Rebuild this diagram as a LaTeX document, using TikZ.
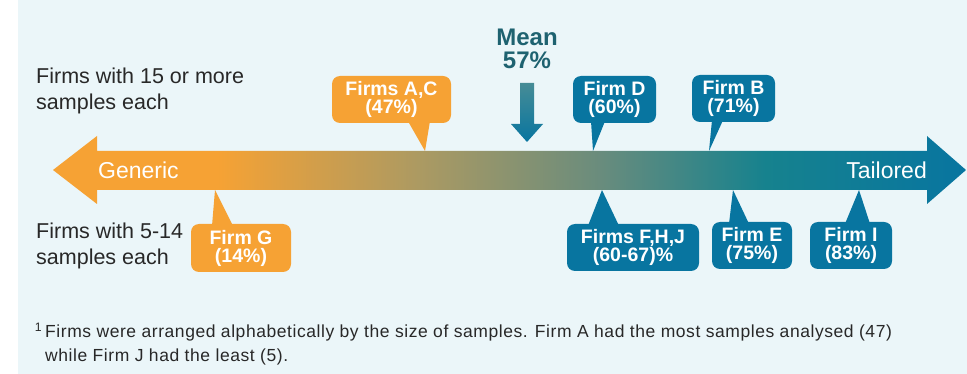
\documentclass[tikz,border=0pt]{standalone}
\usepackage{fontspec}
\setmainfont{Liberation Sans}
\newfontfamily\notefont[LetterSpace=3.2]{Liberation Sans}
\usetikzlibrary{calc}

\definecolor{panel}{RGB}{235,246,249}
\definecolor{orng}{RGB}{246,162,52}
\definecolor{blu}{RGB}{8,117,160}
\definecolor{midtan}{RGB}{172,154,98}
\definecolor{greyteal}{RGB}{105,140,125}
\definecolor{tealmid}{RGB}{22,130,142}
\definecolor{meantxt}{RGB}{30,98,112}
\definecolor{meantop}{RGB}{70,140,150}
\definecolor{labtxt}{RGB}{40,40,40}

\pgfdeclarehorizontalshading{barshade}{100bp}{color(0bp)=(orng); color(34bp)=(orng); color(45bp)=(midtan); color(55bp)=(greyteal); color(64bp)=(tealmid); color(75bp)=(blu); color(100bp)=(blu)}

\begin{document}
\begin{tikzpicture}[x=1pt,y=-1pt,
    callout/.style={rounded corners=8pt, text=white, align=center, inner sep=0pt,
        font=\bfseries\fontsize{19.5}{18}\selectfont},
    orangecall/.style={callout, fill=orng},
    bluecall/.style={callout, fill=blu},
    sidelabel/.style={anchor=north west, align=left, inner sep=0pt, text=labtxt,
        font=\fontsize{21.5}{26}\selectfont},
    barlabel/.style={inner sep=0pt, text=white, font=\fontsize{23}{23}\selectfont}]
    \useasboundingbox (0,0) rectangle (967,374);
    \fill[panel] (18,0) rectangle (967,374);

    % the scale from generic to tailored
    \shade[shading=barshade] (53,170) -- (97,136) -- (97,151) -- (927,151) -- (927,136)
        -- (966,170) -- (927,204) -- (927,190) -- (97,190) -- (97,204) -- cycle;
    \node[barlabel, anchor=west] (generic) at (98,170) {Generic};
    \node[barlabel, anchor=east] (tailored) at (927,170) {Tailored};

    % row labels
    \node[sidelabel] (bigfirms) at (36,67.5) {Firms with 15 or more\\samples each};
    \node[sidelabel] (smallfirms) at (36,222.5) {Firms with 5-14\\samples each};

    % mean marker
    \node[anchor=north, align=center, inner sep=0pt, text=meantxt,
        font=\bfseries\fontsize{24}{23.5}\selectfont] (mean) at (527,28.5) {Mean\\57\%};
    \coordinate (meantip) at (527,142);
    \shade[top color=meantop, bottom color=blu] (520,83) -- (534,83) -- (534,124) -- (543,124)
        -- (meantip) -- (511,124) -- (520,124) -- cycle;

    % firms above the scale
    \node[orangecall, minimum width=119pt, minimum height=47pt] (firmsAC) at (391.5,99.5) {Firms A,C\\(47\%)};
    \coordinate (tipAC) at (425,151);
    \fill[orng] ($(firmsAC.south)+(16.5,-2)$) -- (tipAC) -- ($(firmsAC.south)+(38.5,-2)$) -- cycle;

    \node[bluecall, minimum width=83pt, minimum height=47pt] (firmD) at (614.5,99.5) {Firm D\\(60\%)};
    \coordinate (tipD) at (593,151);
    \fill[blu] ($(firmD.south)+(-23.5,-2)$) -- (tipD) -- ($(firmD.south)+(-9.5,-2)$) -- cycle;

    \node[bluecall, minimum width=83pt, minimum height=47pt] (firmB) at (733.5,98.5) {Firm B\\(71\%)};
    \coordinate (tipB) at (709,151);
    \fill[blu] ($(firmB.south)+(-21.5,-2)$) -- (tipB) -- ($(firmB.south)+(-10.5,-2)$) -- cycle;

    % firms below the scale
    \node[orangecall, minimum width=100pt, minimum height=48pt] (firmG) at (241,248) {Firm G\\(14\%)};
    \coordinate (tipG) at (215,190);
    \fill[orng] ($(firmG.north)+(-29,2)$) -- (tipG) -- ($(firmG.north)+(-8,2)$) -- cycle;

    \node[bluecall, minimum width=132pt, minimum height=47pt] (firmsFHJ) at (633,247.5) {Firms F,H,J\\(60-67)\%};
    \coordinate (tipFHJ) at (602,190);
    \fill[blu] ($(firmsFHJ.north)+(-45,2)$) -- (tipFHJ) -- ($(firmsFHJ.north)+(-14,2)$) -- cycle;

    \node[bluecall, minimum width=80pt, minimum height=47pt] (firmE) at (752,245.5) {Firm E\\(75\%)};
    \coordinate (tipE) at (733,190);
    \fill[blu] ($(firmE.north)+(-23,2)$) -- (tipE) -- ($(firmE.north)+(-3,2)$) -- cycle;

    \node[bluecall, minimum width=82pt, minimum height=47pt] (firmI) at (851,245.5) {Firm I\\(83\%)};
    \coordinate (tipI) at (859,190);
    \fill[blu] ($(firmI.north)+(-6,2)$) -- (tipI) -- ($(firmI.north)+(19,2)$) -- cycle;

    % footnote
    \node[anchor=north west, align=left, inner sep=0pt, text=labtxt,
        font=\notefont\fontsize{17.5}{23.5}\selectfont] (note) at (45,323)
        {\llap{\textsuperscript{1}\,}Firms were arranged alphabetically by the size of samples. Firm A had the most samples analysed (47)\\while Firm J had the least (5).};
\end{tikzpicture}
\end{document}
